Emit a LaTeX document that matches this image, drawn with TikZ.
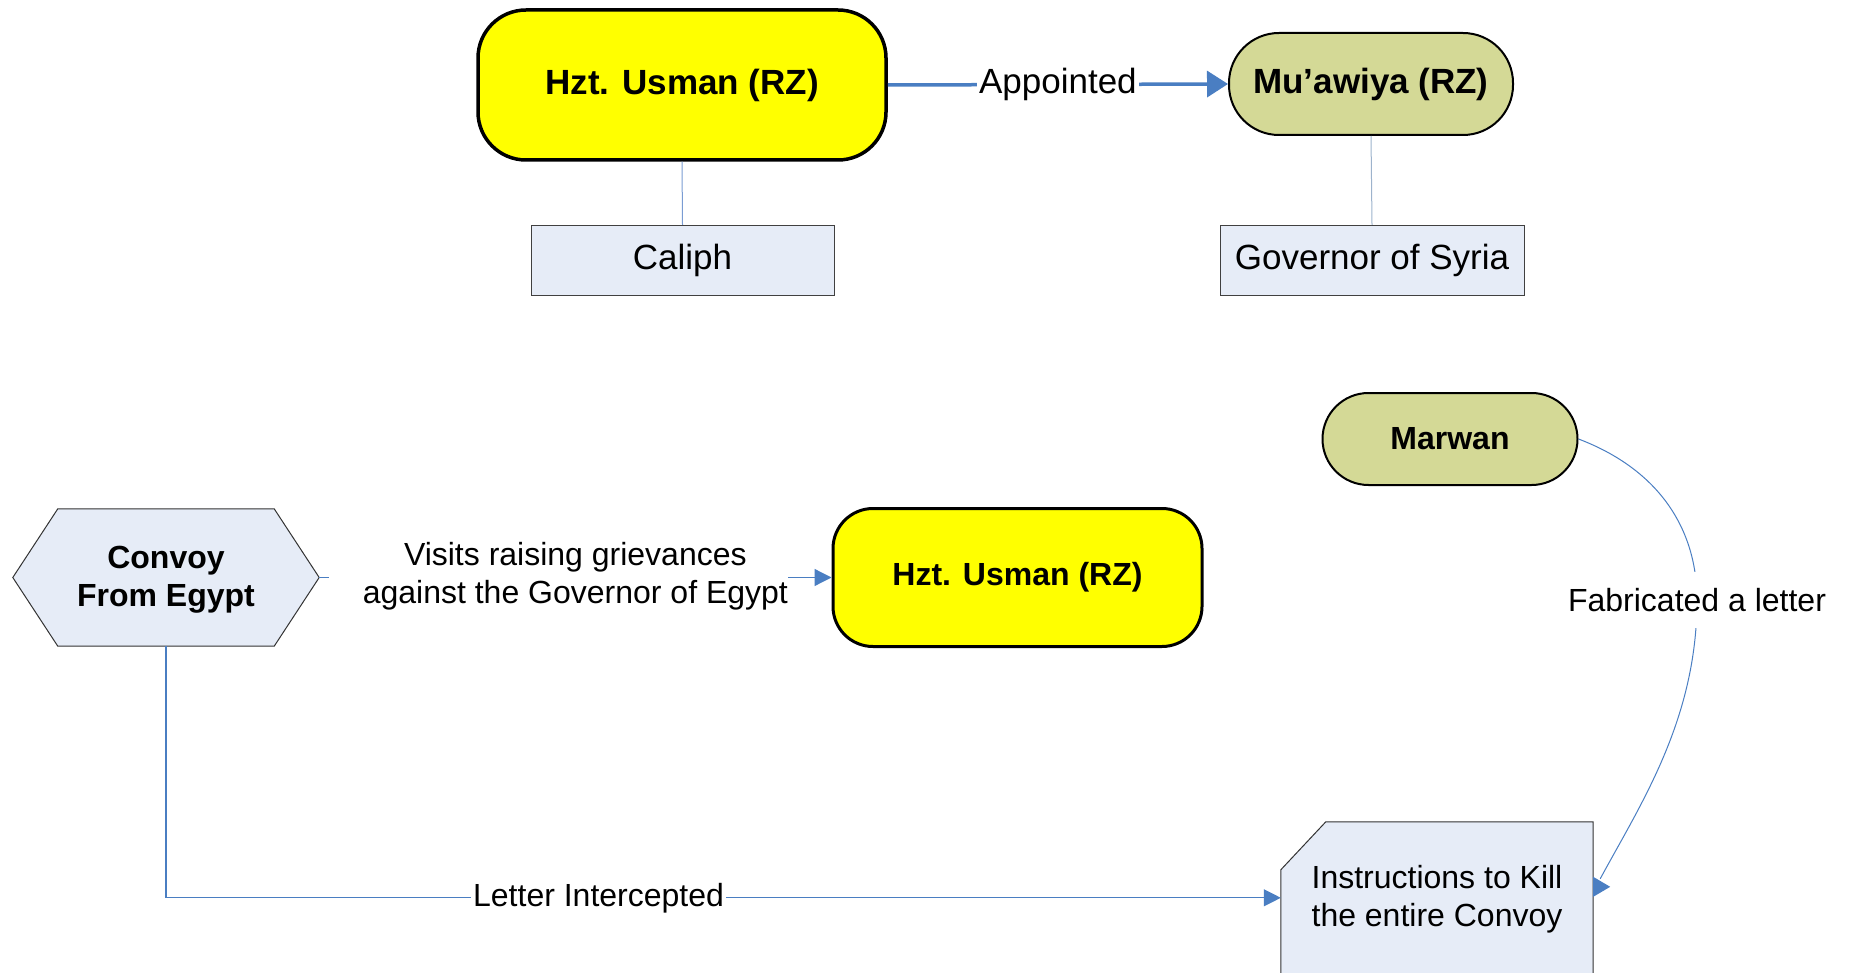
\documentclass[tikz,border=0pt]{standalone}
\usepackage{fontspec}
\setmainfont{Liberation Sans}
\usetikzlibrary{arrows.meta,calc}
\definecolor{yel}{HTML}{FFFF00}
\definecolor{olivefill}{HTML}{D4D996}
\definecolor{pale}{HTML}{E6ECF7}
\definecolor{conn}{HTML}{4A7EC2}
\definecolor{thinblue}{HTML}{7A9CD3}
\definecolor{grayblue}{HTML}{9DB3CC}
\begin{document}
\begin{tikzpicture}[x=1pt,y=-1pt,
  bigfont/.style={font=\fontsize{35}{40}\selectfont},
  midfont/.style={font=\fontsize{32}{38}\selectfont},
  rolebox/.style={draw=black!75, line width=1pt, fill=pale, minimum width=303pt,
    minimum height=70pt, inner sep=0pt, bigfont},
  yelbox/.style={draw=black, fill=yel, inner sep=0pt},
  olivebox/.style={draw=black, line width=2pt, fill=olivefill, inner sep=0pt},
  conline/.style={draw=conn, line width=1.2pt},
  thintip/.style={-{Triangle[length=17pt,width=17pt]}},
  lbl/.style={fill=white, inner sep=2pt, midfont, align=center},
]
\useasboundingbox (0,0) rectangle (1852,973);
\clip (0,0) rectangle (1852,973);

% top row
\node[yelbox, line width=3.5pt, minimum width=408pt, minimum height=150pt,
  rounded corners=48pt, font=\fontsize{35}{40}\selectfont\bfseries] (u1) at (682,85) {Hzt. Usman (RZ)};
\node[olivebox, minimum width=284pt, minimum height=102pt, rounded corners=50pt,
  font=\fontsize{35}{40}\selectfont\bfseries] (mu) at (1371,84) {Mu’awiya (RZ)};
\node[rolebox] (cal) at (682.5,260.5) {Caliph};
\node[rolebox, minimum width=304pt] (gov) at (1372,260.5) {Governor of Syria};

\draw[draw=conn, line width=3.5pt, -{Triangle[length=21pt,width=26pt]}]
  (u1.east) -- node[fill=white, inner sep=2pt, bigfont] (appt) {Appointed} (mu.west);
\draw[draw=thinblue, line width=1pt] (u1.south) -- (cal.north);
\draw[draw=grayblue, line width=1pt] (mu.south) -- (gov.north);

% Marwan
\node[olivebox, minimum width=255pt, minimum height=92pt, rounded corners=46pt,
  font=\fontsize{32}{38}\selectfont\bfseries] (mw) at (1450,439) {Marwan};

% hexagon
\node[minimum width=306pt, minimum height=137pt, inner sep=0pt] (hex) at (166,577.5) {};
\filldraw[draw=black!80, line width=1pt, fill=pale]
  (hex.west) -- ($(hex.north west)+(45,0)$) -- ($(hex.north east)+(-45,0)$)
  -- (hex.east) -- ($(hex.south east)+(-45,0)$) -- ($(hex.south west)+(45,0)$) -- cycle;
\node[font=\fontsize{32}{38}\selectfont\bfseries, align=center, inner sep=0pt] (hextext) at (166,579.5)
  {Convoy\\From Egypt};

% second Usman
\node[yelbox, line width=3pt, minimum width=369pt, minimum height=138pt,
  rounded corners=40pt, font=\fontsize{32}{38}\selectfont\bfseries] (u2) at (1017.5,577.5) {Hzt. Usman (RZ)};

\draw[conline, thintip] (hex.east) --
  node[fill=white, midfont, align=center, inner xsep=0pt, inner ysep=4pt,
    xshift=-17pt, yshift=1.5pt] (visits)
    {\hspace*{34pt}Visits raising grievances\\\hspace*{34pt}against the Governor of Egypt}
  (u2.west);

% instructions
\node[minimum width=312pt, minimum height=188pt, inner sep=0pt] (ins) at (1437,916) {};
\filldraw[draw=black!80, line width=1pt, fill=pale]
  ($(ins.north west)+(0,48)$) -- ($(ins.north west)+(45,0)$) -- (ins.north east)
  -- (ins.south east) -- (ins.south west) -- cycle;
\node[midfont, align=center, inner sep=0pt] (instext) at (1437,899)
  {Instructions to Kill\\the entire Convoy};

\draw[conline, thintip] (hex.south) |-
  node[lbl, pos=0.694] (lint) {Letter Intercepted}
  ($(ins.north west)+(0,76)$);

% Marwan curve
\draw[draw=conn, line width=1pt] (mw.east)
  .. controls (1660,470) and (1697,530) .. (1697,600) coordinate (fm)
  .. controls (1697,720) and (1640,805) .. ($(ins.north east)+(7,57)$);
\node[fill=white, midfont, inner xsep=2pt, inner ysep=16pt] (fab) at (fm) {Fabricated a letter};
\fill[conn] ($(ins.north east)+(0,55)$) -- ($(ins.north east)+(17,65)$)
  -- ($(ins.north east)+(0,75)$) -- cycle;
\end{tikzpicture}
\end{document}
